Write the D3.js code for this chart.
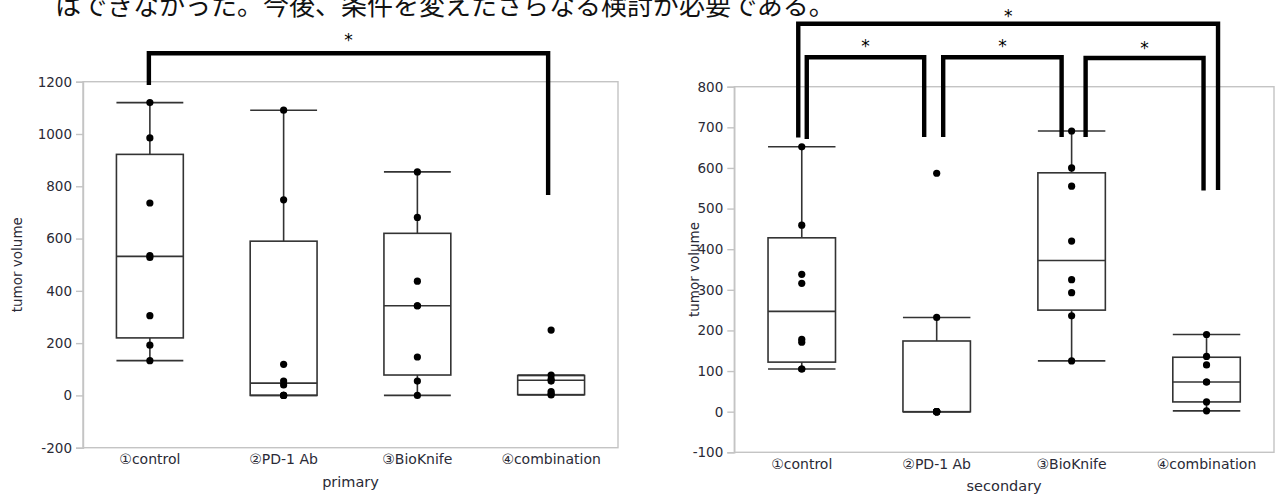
<!DOCTYPE html>
<html><head><meta charset="utf-8">
<script src="https://cdn.jsdelivr.net/npm/d3@7"></script>
<style>
html,body{margin:0;padding:0;background:#fff;}
svg{display:block;}
</style></head>
<body>
<svg id="c" width="1277" height="495"></svg>
<script>
// ---------- data ----------
const categories = ["①control", "②PD-1 Ab", "③BioKnife", "④combination"];

// primary tumour (left panel)
const primaryPoints = [
  [1120, 985, 736, 535, 528, 305, 192, 133],
  [1091, 748, 119, 55, 40, 0, 0, 0],
  [855, 681, 437, 343, 343, 147, 55, 0],
  [250, 78, 62, 55, 15, 6, 2]
];
const primaryQ1 = [220, 0, 78, 3];
const primaryMedian = [532, 47, 343, 58];
const primaryQ3 = [922, 590, 620, 76];
const primaryWhiskerLow = [133, 0, 0, 2];
const primaryWhiskerHigh = [1120, 1091, 855, 78];
const primaryTicks = [-200, 0, 200, 400, 600, 800, 1000, 1200];

// secondary tumour (right panel)
const secondaryPoints = [
  [652, 459, 338, 316, 178, 171, 105, 105],
  [587, 232, 0, 0, 0, 0, 0, 0],
  [691, 600, 555, 420, 325, 293, 236, 125],
  [190, 136, 115, 73, 73, 24, 2]
];
const secondaryQ1 = [122, 0, 250, 24];
const secondaryMedian = [247, 0, 372, 73];
const secondaryQ3 = [428, 174, 588, 134];
const secondaryWhiskerLow = [105, 0, 125, 2];
const secondaryWhiskerHigh = [652, 232, 691, 190];
const secondaryTicks = [-100, 0, 100, 200, 300, 400, 500, 600, 700, 800];

const headerText = "はできなかった。今後、条件を変えたさらなる検討が必要である。";
const yTitle = "tumor volume";
const primaryTitle = "primary";
const secondaryTitle = "secondary";
const sigMark = "*";

// ---------- drawing ----------
const svg = d3.select("#c");
const FONT = "'DejaVu Sans', Verdana, 'Noto Sans CJK JP', sans-serif";
const TXT = "#2a2a36";

svg.append("text")
  .attr("x", 55).attr("y", 14.5)
  .attr("font-family", "'Noto Sans CJK JP', sans-serif")
  .attr("font-size", 26).attr("fill", "#111")
  .text(headerText);

function panel(cfg) {
  const x = d3.scaleBand().domain(categories).range([cfg.x0, cfg.x1]).padding(0);
  const y = d3.scaleLinear().domain(cfg.domain).range([cfg.yb, cfg.yt]);
  const g = svg.append("g");

  // frame
  g.append("rect")
    .attr("x", cfg.x0).attr("y", cfg.yt)
    .attr("width", cfg.x1 - cfg.x0).attr("height", cfg.yb - cfg.yt)
    .attr("fill", "#fff").attr("stroke", "#c4c4c4").attr("stroke-width", 1.4);

  // y axis
  const ya = g.append("g").attr("transform", `translate(${cfg.x0},0)`)
    .call(d3.axisLeft(y).tickValues(cfg.ticks).tickSize(7).tickPadding(4).tickFormat(d => String(d)));
  ya.select(".domain").attr("stroke", "#c4c4c4").attr("stroke-width", 1.4);
  ya.selectAll(".tick line").attr("stroke", "#c4c4c4").attr("stroke-width", 1.4);
  ya.selectAll(".tick text").attr("font-family", FONT).attr("font-size", 13.5).attr("fill", TXT);

  // category labels
  g.selectAll(".cat").data(categories).enter().append("text")
    .attr("x", d => x(d) + x.bandwidth() / 2)
    .attr("y", cfg.yb + 16.5)
    .attr("text-anchor", "middle")
    .attr("font-family", FONT).attr("font-size", 14).attr("fill", TXT)
    .text(d => d);

  // titles
  g.append("text")
    .attr("x", (cfg.x0 + cfg.x1) / 2).attr("y", cfg.yb + 39)
    .attr("text-anchor", "middle")
    .attr("font-family", FONT).attr("font-size", 14.5).attr("fill", TXT)
    .text(cfg.title);
  g.append("text")
    .attr("transform", `translate(${cfg.ytx},${(cfg.yt + cfg.yb) / 2}) rotate(-90)`)
    .attr("text-anchor", "middle").attr("dy", "0.35em")
    .attr("font-family", FONT).attr("font-size", 13.5).attr("fill", TXT)
    .text(yTitle);

  // boxes
  const bw = x.bandwidth() / 2;
  categories.forEach((c, i) => {
    const cx = x(c) + x.bandwidth() / 2;
    const bg = g.append("g").attr("stroke", "#333").attr("stroke-width", 1.6).attr("fill", "none");
    // whiskers
    bg.append("line").attr("x1", cx).attr("x2", cx).attr("y1", y(cfg.q3[i])).attr("y2", y(cfg.wh[i]));
    bg.append("line").attr("x1", cx).attr("x2", cx).attr("y1", y(cfg.q1[i])).attr("y2", y(cfg.wl[i]));
    bg.append("line").attr("x1", cx - bw / 2).attr("x2", cx + bw / 2).attr("y1", y(cfg.wh[i])).attr("y2", y(cfg.wh[i]));
    bg.append("line").attr("x1", cx - bw / 2).attr("x2", cx + bw / 2).attr("y1", y(cfg.wl[i])).attr("y2", y(cfg.wl[i]));
    // box
    bg.append("rect").attr("x", cx - bw / 2).attr("width", bw)
      .attr("y", y(cfg.q3[i])).attr("height", Math.max(0, y(cfg.q1[i]) - y(cfg.q3[i])));
    bg.append("line").attr("x1", cx - bw / 2).attr("x2", cx + bw / 2).attr("y1", y(cfg.med[i])).attr("y2", y(cfg.med[i]));
    // points
    g.selectAll(null).data(cfg.points[i]).enter().append("circle")
      .attr("cx", cx).attr("cy", d => y(d)).attr("r", 3.6).attr("fill", "#000");
  });
  return {x, y};
}

const L = panel({
  x0: 83, x1: 618, yt: 81.7, yb: 447.7, ytx: 17,
  domain: [-200, 1200], ticks: primaryTicks, title: primaryTitle,
  points: primaryPoints, q1: primaryQ1, med: primaryMedian, q3: primaryQ3,
  wl: primaryWhiskerLow, wh: primaryWhiskerHigh
});
const R = panel({
  x0: 734.3, x1: 1274, yt: 86.7, yb: 452.3, ytx: 694,
  domain: [-100, 800], ticks: secondaryTicks, title: secondaryTitle,
  points: secondaryPoints, q1: secondaryQ1, med: secondaryMedian, q3: secondaryQ3,
  wl: secondaryWhiskerLow, wh: secondaryWhiskerHigh
});

// significance brackets
function bracket(xs, i, j, dxa, dxb, top, bota, botb, starY) {
  const xa = xs(categories[i]) + xs.bandwidth() / 2 + dxa;
  const xb = xs(categories[j]) + xs.bandwidth() / 2 + dxb;
  svg.append("path")
    .attr("d", `M${xa},${bota}V${top}H${xb}V${botb}`)
    .attr("fill", "none").attr("stroke", "#000").attr("stroke-width", 4.4)
    .attr("stroke-linejoin", "miter").attr("stroke-linecap", "butt");
  svg.append("text")
    .attr("x", (xa + xb) / 2).attr("y", starY)
    .attr("text-anchor", "middle")
    .attr("font-family", FONT).attr("font-size", 17).attr("fill", "#000")
    .text(sigMark);
}
bracket(L.x, 0, 3, -1, -3, 53.3, 85, 195, 45.5);
bracket(R.x, 0, 3, -3.5, 11.5, 23.8, 137.5, 190, 22);
bracket(R.x, 0, 1, 5, -12.5, 57.3, 139, 137, 52);
bracket(R.x, 1, 2, 6.5, -10, 57.3, 137, 137, 52);
bracket(R.x, 2, 3, 14, -3, 58, 137, 190.5, 53.5);
</script>
</body></html>
